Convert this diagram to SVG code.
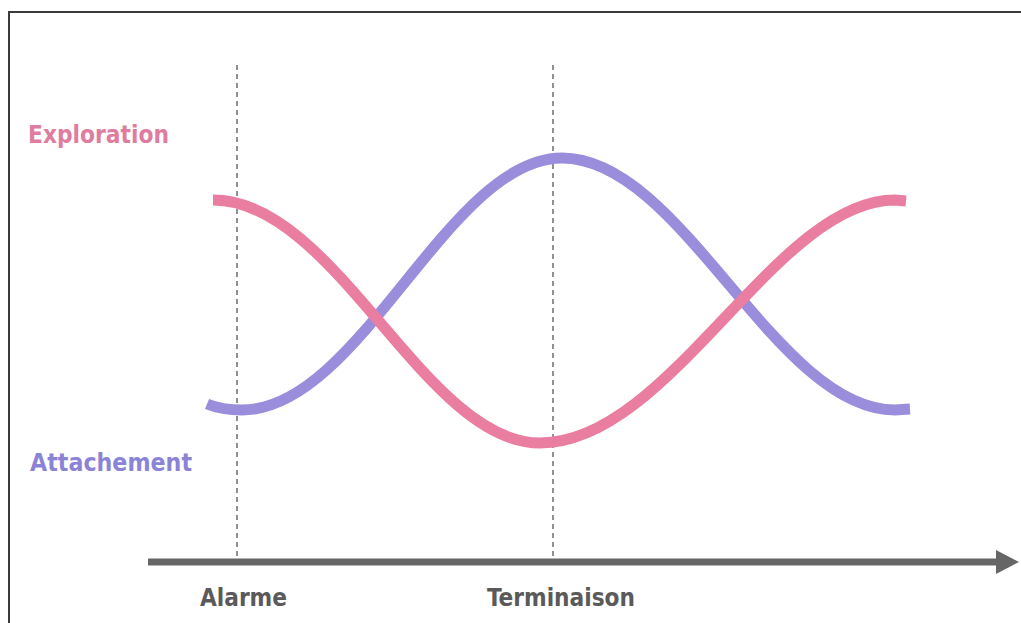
<svg xmlns="http://www.w3.org/2000/svg" width="1021" height="623" viewBox="0 0 1021 623">
<defs>
<style>
.frame{fill:none;stroke:#3a3a3a;stroke-width:2}
.guide{stroke:#222;stroke-width:1;stroke-dasharray:5 4}
.curve{fill:none;stroke-width:11;stroke-linecap:butt}
.lbl{font-family:"Comic Sans MS","DejaVu Sans",sans-serif;font-weight:bold;font-size:25px}
.axislbl{font-family:"DejaVu Sans Condensed","DejaVu Sans",sans-serif;font-weight:bold;font-size:25px;fill:#5a5a5a}
</style>
</defs>
<rect width="1021" height="623" fill="#fff"/>
<path class="frame" d="M9,623 V12 H1021"/>
<g id="guides">
<line class="guide" x1="237" y1="65" x2="237" y2="556"/>
<line class="guide" x1="553" y1="65" x2="553" y2="556"/>
</g>
<g id="connectors">
<path id="attachement-curve" class="curve" stroke="#9a8ddc" d="M207,404 Q222,410 242,410 C360,410 448,158 562,158 C682,158 775,410 895,410 L910,409"/>
<path id="exploration-curve" class="curve" stroke="#e97ea1" d="M213,200 C336,200 424,443 540,443 C670,443 775,200 895,200 L906,201"/>
<g id="axis">
<line x1="148" y1="562" x2="998" y2="562" stroke="#666" stroke-width="7"/>
<polygon points="996,550 1019,562 996,574" fill="#666"/>
</g>
</g>
<g id="label-exploration"><text class="lbl" x="28" y="143" fill="#e07ca0" textLength="141" lengthAdjust="spacingAndGlyphs">Exploration</text></g>
<g id="label-attachement"><text class="lbl" x="30" y="471" fill="#8a84d8" textLength="162" lengthAdjust="spacingAndGlyphs">Attachement</text></g>
<g id="label-alarme"><text class="axislbl" x="200" y="606" textLength="87" lengthAdjust="spacingAndGlyphs">Alarme</text></g>
<g id="label-terminaison"><text class="axislbl" x="487" y="606" textLength="148" lengthAdjust="spacingAndGlyphs">Terminaison</text></g>
</svg>
